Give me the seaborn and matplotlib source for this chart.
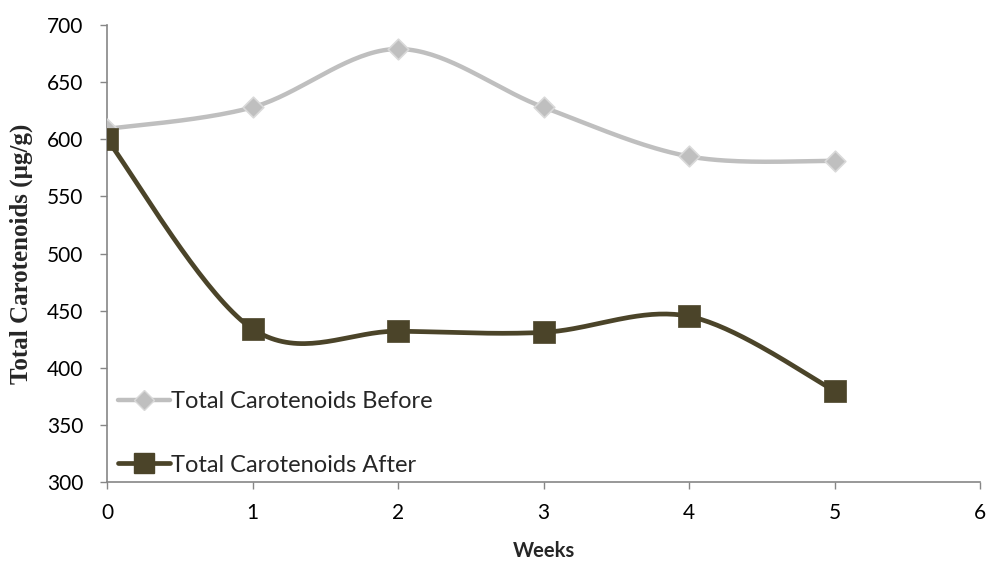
import numpy as np
import pandas as pd
import matplotlib
matplotlib.use("Agg")
import matplotlib.pyplot as plt
import seaborn as sns
from matplotlib.lines import Line2D

weeks = [0, 1, 2, 3, 4, 5]
before = [609, 628, 679, 628, 585, 581]
after = [600, 434, 432, 431, 445, 380]
series_names = ["Total Carotenoids Before", "Total Carotenoids After"]
x_ticks = [0, 1, 2, 3, 4, 5, 6]
y_ticks = [300, 350, 400, 450, 500, 550, 600, 650, 700]

c_before = "#BFBFBF"
c_before_edge = "#D9D9D9"
c_after = "#4B4429"


def smooth(xs, ys, n=40):
    """Excel-style smoothing (Catmull-Rom Bezier) through data points."""
    xs = np.asarray(xs, float)
    ys = np.asarray(ys, float)
    pts = np.column_stack([xs, ys])
    out = []
    for i in range(len(pts) - 1):
        p0 = pts[i - 1] if i > 0 else pts[i]
        p1 = pts[i]
        p2 = pts[i + 1]
        p3 = pts[i + 2] if i + 2 < len(pts) else pts[i + 1]
        c1 = p1 + (p2 - p0) / 6.0
        c2 = p2 - (p3 - p1) / 6.0
        t = np.linspace(0, 1, n)[:, None]
        seg = ((1 - t) ** 3) * p1 + 3 * ((1 - t) ** 2) * t * c1 + 3 * (1 - t) * t ** 2 * c2 + t ** 3 * p2
        out.append(seg if i == 0 else seg[1:])
    arr = np.vstack(out)
    return arr[:, 0], arr[:, 1]


sns.set_theme(style="white")
plt.rcParams["font.family"] = ["Lato", "DejaVu Sans"]

fig = plt.figure(figsize=(9.91, 5.66), dpi=100)
ax = fig.add_axes([0.108, 0.1484, 0.881, 0.8074])

sx, sy = smooth(weeks, before)
sns.lineplot(x=sx, y=sy, ax=ax, color=c_before, linewidth=3.2, sort=False, estimator=None)
sns.scatterplot(x=weeks, y=before, ax=ax, marker="D", s=110, color=c_before,
                edgecolor=c_before_edge, linewidth=1.2, zorder=3)

sx2, sy2 = smooth(weeks, after)
sns.lineplot(x=sx2, y=sy2, ax=ax, color=c_after, linewidth=3.4, sort=False, estimator=None)
sns.scatterplot(x=weeks, y=after, ax=ax, marker="s", s=230, color=c_after,
                edgecolor=c_after, linewidth=0.5, zorder=4)

ax.set_xlim(0, 6)
ax.set_ylim(300, 700)
ax.set_xticks(x_ticks)
ax.set_yticks(y_ticks)
ax.tick_params(axis="both", labelsize=15, colors="#000000", direction="out",
               length=5, width=1, color="#868686", bottom=True, left=True)
ax.tick_params(axis="y", pad=12)
ax.tick_params(axis="x", pad=10)
for s in ["top", "right"]:
    ax.spines[s].set_visible(False)
for s in ["left", "bottom"]:
    ax.spines[s].set_color("#868686")
    ax.spines[s].set_linewidth(1.2)

ax.set_xlabel("Weeks", fontsize=14.5, fontweight="bold", labelpad=13)
ax.set_ylabel("Total Carotenoids (µg/g)", fontsize=18, fontweight="bold",
              family=["Liberation Serif", "DejaVu Serif"], labelpad=10)

handles = [
    Line2D([0], [0], color=c_before, lw=3.2, marker="D", markersize=10,
           markerfacecolor=c_before, markeredgecolor=c_before_edge),
    Line2D([0], [0], color=c_after, lw=3.4, marker="s", markersize=14,
           markerfacecolor=c_after, markeredgecolor=c_after),
]
leg = ax.legend(handles, series_names, loc="lower left", bbox_to_anchor=(-0.006, -0.022),
                frameon=False, fontsize=17, handlelength=2.2, handletextpad=0.05,
                labelspacing=1.8, borderaxespad=0.3)

fig.savefig("out.png", dpi=100)
